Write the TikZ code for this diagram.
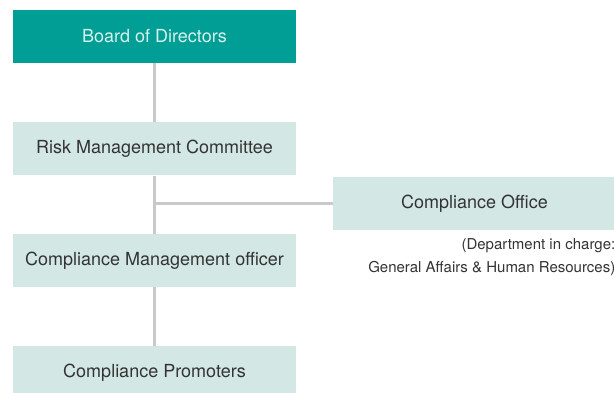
\documentclass[tikz,border=0pt]{standalone}
\usepackage{fontspec}
\setmainfont{TeX Gyre Heros}
\usetikzlibrary{positioning}

\definecolor{boardfill}{HTML}{009E94}
\definecolor{boardtext}{HTML}{D8F1ED}
\definecolor{unitfill}{HTML}{D3E8E5}
\definecolor{unittext}{HTML}{333333}
\definecolor{linkgray}{HTML}{C9C9C9}

\tikzset{
  unit/.style={fill=unitfill, text=unittext, minimum width=283pt, minimum height=53pt,
    inner sep=0pt, font=\fontsize{18}{21}\selectfont},
  board/.style={unit, fill=boardfill, text=boardtext},
  link/.style={draw=linkgray, line width=2.2pt}
}

\begin{document}
\begin{tikzpicture}[x=1pt,y=1pt]
\useasboundingbox (0,0) rectangle (614,392);
% main chain
\node [board] (board) at (154.5,355.5) {Board of Directors};
\node [unit, below=59pt of board] (risk) {Risk Management Committee};
\node [unit, below=58pt of risk] (officer) {Compliance Management officer};
\node [unit, below=59pt of officer] (promoters) {Compliance Promoters};
% side office
\node [unit] (office) at (474.5,188.5) {Compliance Office};
\node [anchor=north east, align=right, text=unittext, inner sep=0pt,
  font=\fontsize{15}{23}\selectfont] (dept) at (615.5,154)
  {(Department in charge:\\General Affairs \& Human Resources)};
\coordinate (junction) at (office.west -| risk.south);
% links
\draw [link] (board.south) -- (risk.north);
\draw [link] (risk.south) -- (officer.north);
\draw [link] (officer.south) -- (promoters.north);
\draw [link] (office.west) -- (junction);
\end{tikzpicture}
\end{document}
